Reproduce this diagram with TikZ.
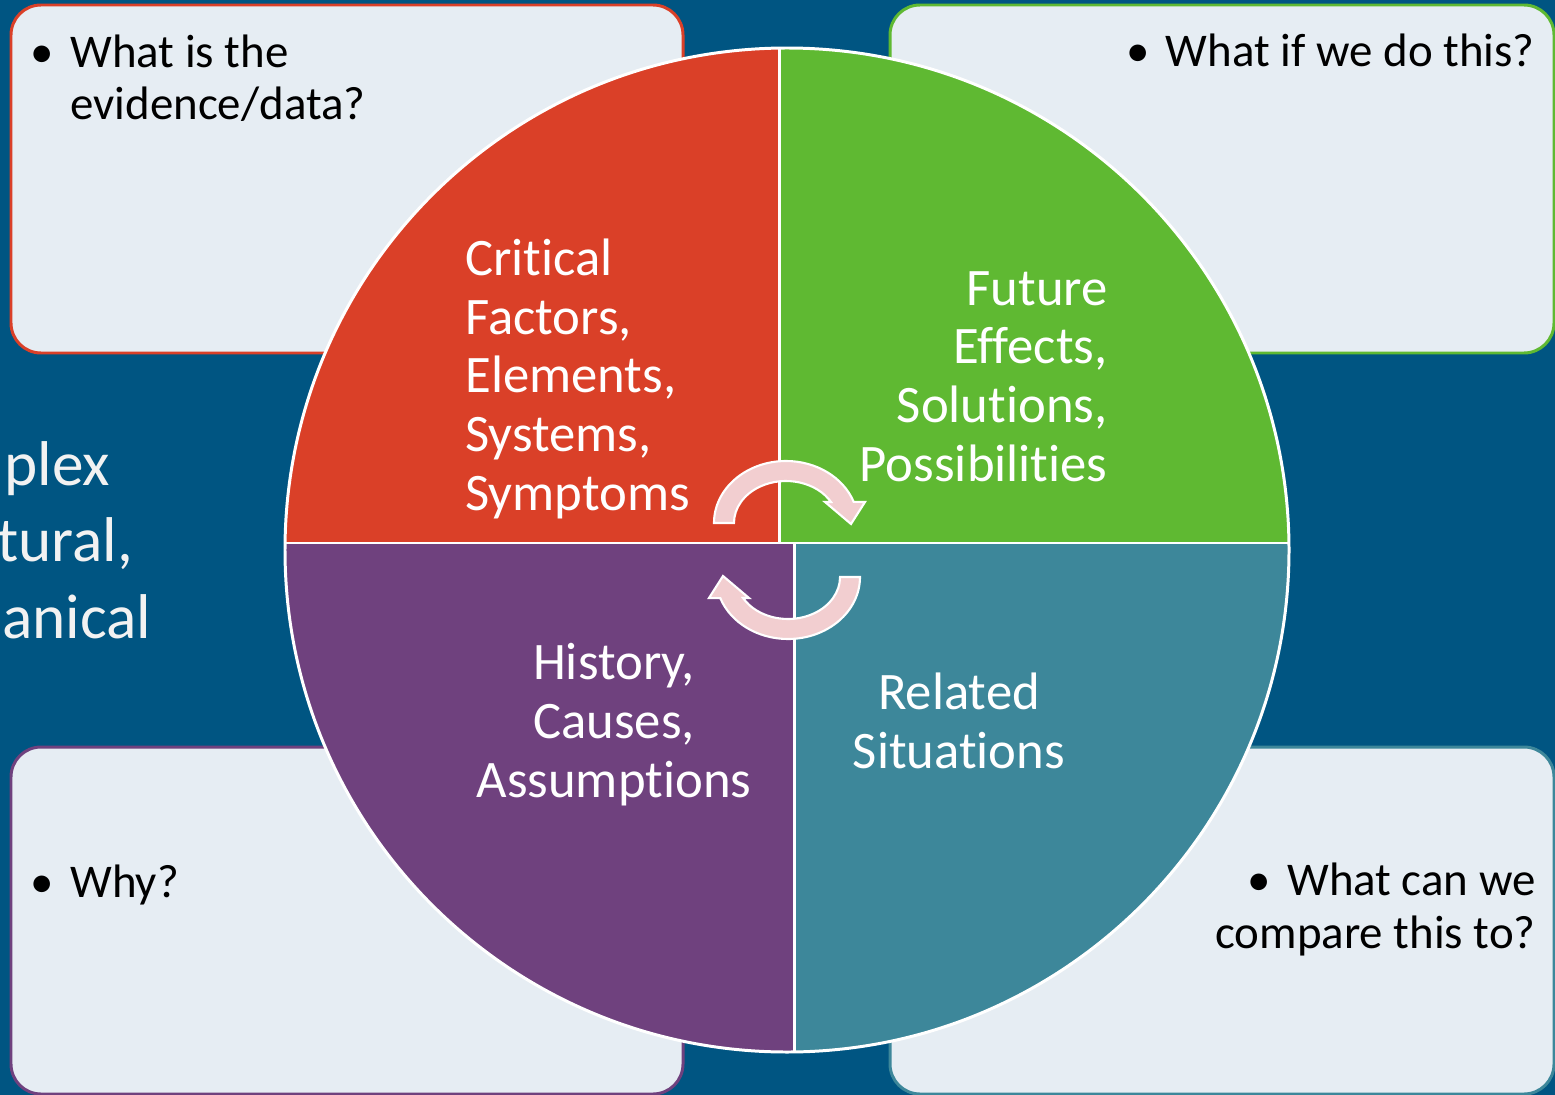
\documentclass[tikz,border=0pt]{standalone}
\usepackage{fontspec}
\setmainfont{Carlito}[Ligatures=NoCommon]

\definecolor{bgblue}{RGB}{0,85,130}
\definecolor{qred}{RGB}{218,64,40}
\definecolor{qgreen}{RGB}{95,185,50}
\definecolor{qpurple}{RGB}{111,65,126}
\definecolor{qteal}{RGB}{61,135,154}
\definecolor{boxfill}{RGB}{230,237,243}
\definecolor{cyclepink}{RGB}{242,206,208}
\definecolor{sidetext}{RGB}{242,242,242}

\begin{document}
\begin{tikzpicture}[x=0.02cm,y=-0.02cm,
  qbox/.style={fill=boxfill,line width=1.7pt,rounded corners=0.6cm},
  qtext/.style={text=white,inner sep=0pt,font=\fontsize{30}{33.3}\selectfont},
  btext/.style={text=black,inner sep=0pt,font=\fontsize{26.7}{30}\selectfont},
  stext/.style={text=sidetext,inner sep=0pt,anchor=base west,font=\fontsize{36}{43}\selectfont},
  divider/.style={white,line width=1.7pt},
  cyclearrow/.style={fill=cyclepink,draw=white,line width=1.2pt},
]

%--- background -----------------------------------------------------------
\fill[bgblue] (0,0) rectangle (1555,1095);
\useasboundingbox (0,0) rectangle (1555,1095);

%--- text at the left edge ------------------------------------------------
\node[stext] (plex) at (4,485) {plex};
\node[stext] (tural) at (-3,561) {tural,};
\node[stext] (anical) at (2,638) {anical};

%--- corner boxes ---------------------------------------------------------
\foreach \xa/\ya/\xb/\yb/\col in {11/5/683/353/qred, 890/5/1554/353/qgreen,
    11/747/683/1094/qpurple, 890/747/1554/1094/qteal}{
  \draw[qbox,draw=\col] (\xa,\ya) rectangle (\xb,\yb);
}

% multi-line nodes: base is the last line
\node[btext,align=left,anchor=base west] (evidence) at (70,120)
  {\llap{•\hspace{0.32cm}}What is the\\evidence/data?};
\node[btext,anchor=base east] (whatif) at (1535,67) {•\hspace{0.32cm}What if we do this?};
\node[btext,anchor=base west] (why) at (70,897) {\llap{•\hspace{0.32cm}}Why?};
\node[btext,align=right,anchor=base east] (compare) at (1536,948)
  {•\hspace{0.32cm}What can we\\compare this to?};

%--- the four quadrants ---------------------------------------------------
\begin{scope}
  \clip (787,550) circle (502);
  \fill[qred] (270,30) rectangle (779,543);
  \fill[qgreen] (779,30) rectangle (1300,543);
  \fill[qpurple] (270,543) rectangle (794,1070);
  \fill[qteal] (794,543) rectangle (1300,1070);
  \draw[divider] (779,30) -- (779,543) (794,543) -- (794,1070) (270,543) -- (1300,543);
\end{scope}
\draw[divider] (787,550) circle (502);

\node[qtext,align=left,anchor=base west] (factors) at (465,510)
  {Critical\\Factors,\\Elements,\\Systems,\\Symptoms};
\node[qtext,align=right,anchor=base east] (future) at (1108,481)
  {Future\\Effects,\\Solutions,\\Possibilities};
\node[qtext,align=center,anchor=base] (history) at (614,797)
  {History,\\Causes,\\Assumptions};
\node[qtext,align=center,anchor=base] (related) at (959,768)
  {Related\\Situations};

%--- cycle arrows in the middle -------------------------------------------
\foreach \turn in {0,180}{
  \begin{scope}[rotate around={\turn:(787,550)}]
    \draw[cyclearrow] (714,523) arc[start angle=180, end angle=340, x radius=72, y radius=62]
      -- (865,502) -- (851,524) -- (825,502) -- (831,502)
      arc[start angle=330, end angle=180, x radius=52, y radius=42] -- cycle;
  \end{scope}
}

\end{tikzpicture}
\end{document}
